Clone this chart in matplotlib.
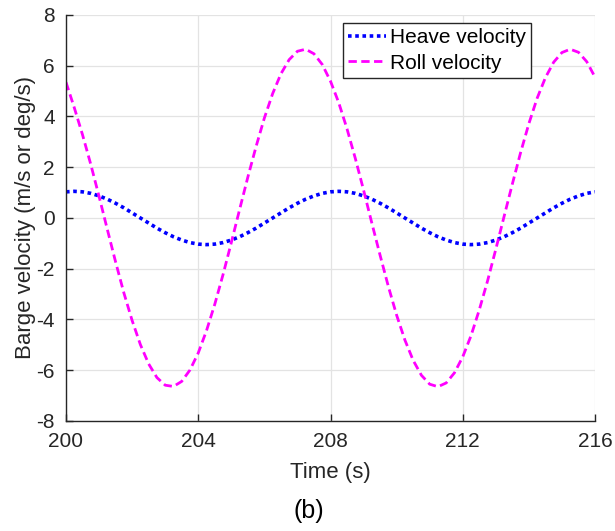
import numpy as np
import matplotlib
matplotlib.use("Agg")
import matplotlib.pyplot as plt

plt.rcParams['font.family'] = ['Liberation Sans', 'DejaVu Sans']
plt.rcParams['axes.unicode_minus'] = False

time = [200 + 0.25 * k for k in range(65)]

heave_velocity = [
    1.03, 1.05, 1.03, 0.97, 0.87, 0.74, 0.58, 0.40, 0.20, 0.00,
    -0.20, -0.40, -0.58, -0.74, -0.87, -0.97, -1.03, -1.05, -1.03, -0.97,
    -0.87, -0.74, -0.58, -0.40, -0.20, 0.00, 0.20, 0.40, 0.58, 0.74,
    0.87, 0.97, 1.03, 1.05, 1.03, 0.97, 0.87, 0.74, 0.58, 0.40,
    0.20, 0.00, -0.20, -0.40, -0.58, -0.74, -0.87, -0.97, -1.03, -1.05,
    -1.03, -0.97, -0.87, -0.74, -0.58, -0.40, -0.20, 0.00, 0.20, 0.40,
    0.58, 0.74, 0.87, 0.97, 1.03,
]

roll_velocity = [
    5.35, 4.35, 3.28, 2.11, 0.85, -0.45, -1.73, -2.95, -4.04, -4.99,
    -5.75, -6.29, -6.59, -6.64, -6.44, -5.99, -5.32, -4.44, -3.40, -2.23,
    -0.97, 0.33, 1.61, 2.82, 3.94, 4.90, 5.68, 6.24, 6.57, 6.65,
    6.47, 6.05, 5.39, 4.54, 3.51, 2.35, 1.10, -0.20, -1.47, -2.70,
    -3.83, -4.81, -5.61, -6.20, -6.55, -6.65, -6.50, -6.10, -5.47, -4.64,
    -3.62, -2.48, -1.23, 0.06, 1.34, 2.58, 3.72, 4.72, 5.53, 6.14,
    6.52, 6.65, 6.53, 6.16, 5.55,
]

x_ticks = [200, 204, 208, 212, 216]
y_ticks = [-8, -6, -4, -2, 0, 2, 4, 6, 8]

fig = plt.figure(figsize=(6.15, 5.31), dpi=100)
ax = fig.add_axes([0.1073, 0.2072, 0.8602, 0.7646])

ax.plot(time, heave_velocity, color='#0000ff', linestyle=(0, (1, 1)), linewidth=2.6,
        label='Heave velocity')
ax.plot(time, roll_velocity, color='#ff00ff', linestyle=(0, (3, 1.6)), linewidth=2.0,
        label='Roll velocity')

ax.set_xlim(200, 216)
ax.set_ylim(-8, 8)
ax.set_xticks(x_ticks)
ax.set_yticks(y_ticks)
ax.grid(True, which='major', color='#e3e3e3', linewidth=0.9)
ax.set_axisbelow(True)

for s in ['top', 'right']:
    ax.spines[s].set_visible(False)
for s in ['left', 'bottom']:
    ax.spines[s].set_color('#262626')
    ax.spines[s].set_linewidth(1.0)

ax.tick_params(which='major', direction='in', length=5, width=1.0, color='#262626',
               labelsize=15, labelcolor='#262626', pad=8)

ax.set_xlabel('Time (s)', fontsize=16, color='#262626', labelpad=8)
ax.set_ylabel('Barge velocity (m/s or deg/s)', fontsize=16, color='#262626', labelpad=0)

leg = ax.legend(loc='upper left', bbox_to_anchor=(0.523, 0.98), fontsize=15,
                frameon=True, fancybox=False, framealpha=1, edgecolor='#262626',
                handlelength=1.85, handletextpad=0.15, borderpad=0.25, labelspacing=0.3,
                borderaxespad=0)
leg.get_frame().set_linewidth(1.0)

fig.text(0.502, 0.037, '(b)', fontsize=18, ha='center', va='center', color='black')

fig.savefig('out.png', dpi=100)
